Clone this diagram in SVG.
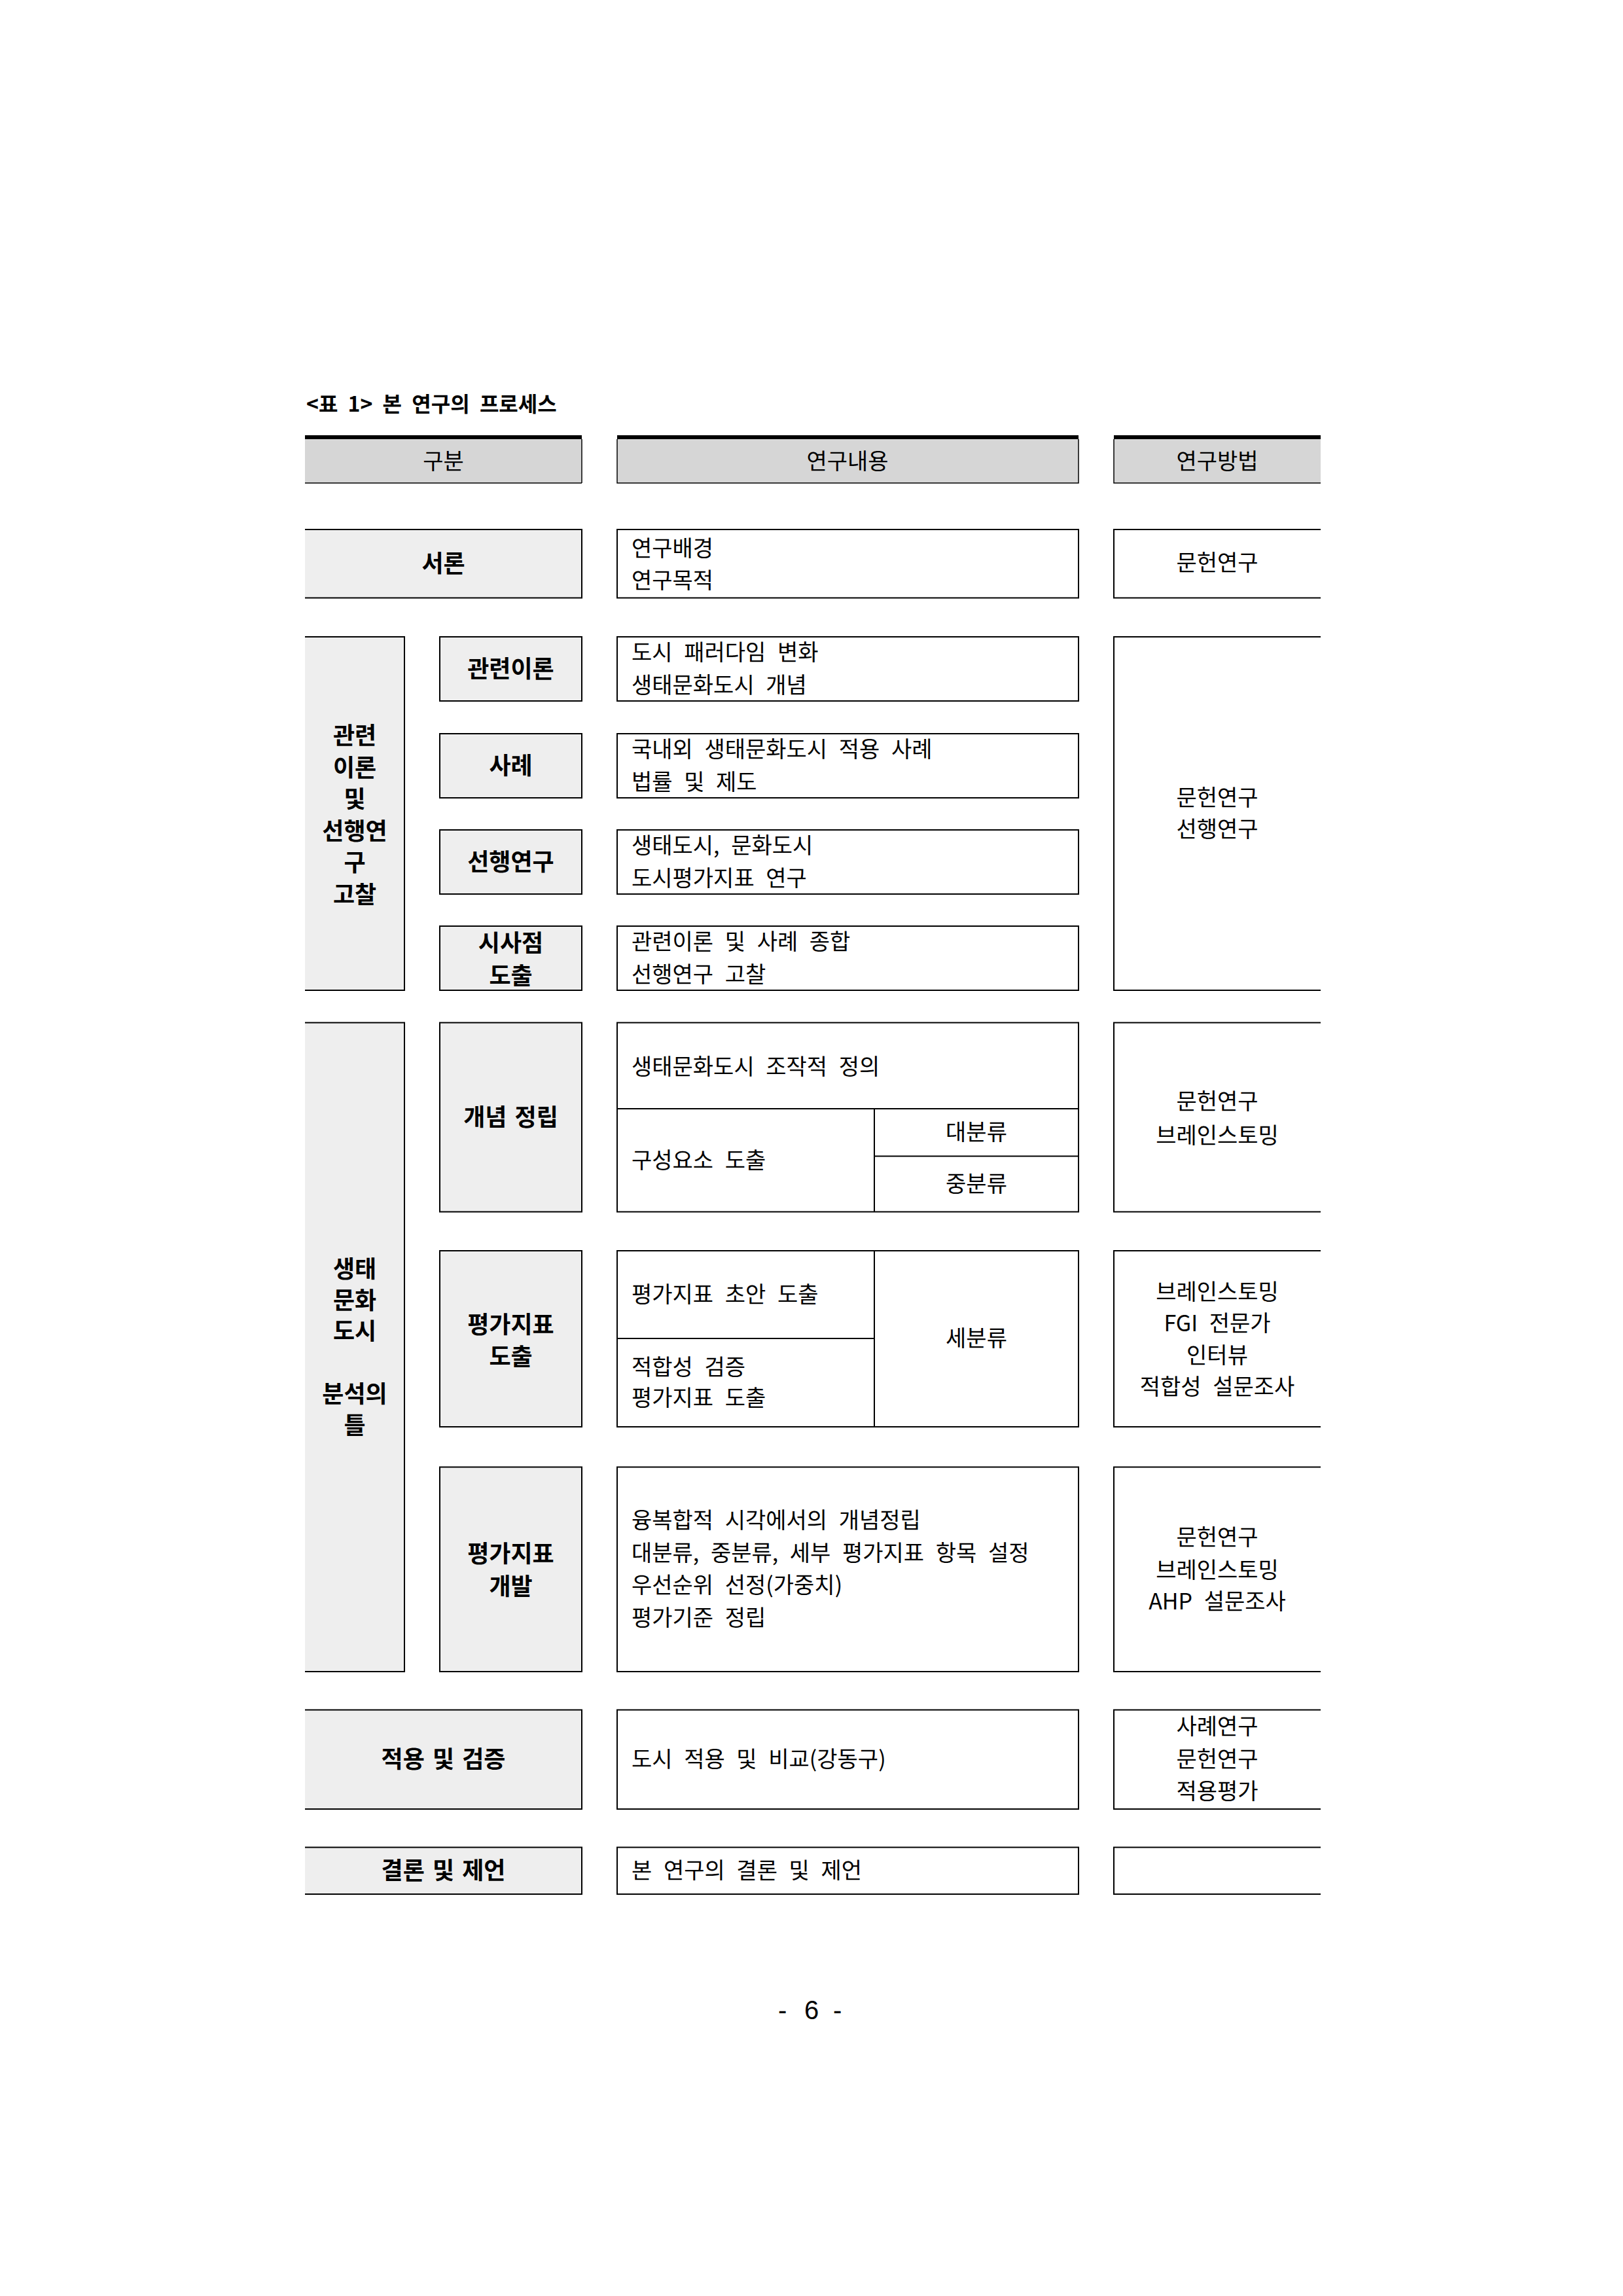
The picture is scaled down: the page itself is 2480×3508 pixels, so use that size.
<svg xmlns="http://www.w3.org/2000/svg" width="2480" height="3508" viewBox="0 0 2480 3508">
<style>
.t{font-family:"Noto Sans CJK KR","Liberation Sans",sans-serif;font-size:34px;fill:#000;word-spacing:10px}
.c{text-anchor:middle}
.b{font-weight:bold;font-size:36px;word-spacing:4px}
.ttl{font-weight:bold;font-size:32px;word-spacing:8px}
.ln{fill:none;stroke:#000;stroke-width:2}
.lb{fill:#eeeeee;stroke:#000;stroke-width:2}
.hl{fill:none;stroke:#000;stroke-width:1.5}
.lab{fill:#eeeeee}
.hd{fill:#d6d6d6}
.pg{font-family:"Liberation Sans",sans-serif;font-size:40px;fill:#000}
</style>
<rect width="2480" height="3508" fill="#fff"/>

<text id="title" class="t ttl" x="468" y="629">&lt;표 1&gt; 본 연구의 프로세스</text>

<g id="header-gubun">
<rect class="hd" x="466" y="671" width="423" height="67"/>
<rect x="466" y="665" width="423" height="6" fill="#000"/>
<path class="hl" d="M889,671 V738 M466,738 H889"/>
<text class="t c" x="677.5" y="716.5">구분</text>
</g>
<g id="header-content">
<rect class="hd" x="943" y="671" width="705" height="67"/>
<rect x="943" y="665" width="705" height="6" fill="#000"/>
<path class="hl" d="M943,671 V738 H1648 V671"/>
<text class="t c" x="1295" y="716.5">연구내용</text>
</g>
<g id="header-method">
<rect class="hd" x="1702" y="671" width="316" height="67"/>
<rect x="1702" y="665" width="316" height="6" fill="#000"/>
<path class="hl" d="M1702,671 V738 H2018"/>
<text class="t c" x="1860" y="716.5">연구방법</text>
</g>

<!-- 서론 -->
<g id="intro-label">
<rect class="lab" x="466" y="809" width="423" height="104.5"/>
<path class="ln" d="M466,809 H889 V913.5 H466"/>
<text class="t b c" x="677.5" y="873.5">서론</text>
</g>
<g id="intro-content">
<rect class="ln" x="943" y="809" width="705" height="104.5"/>
<text class="t" x="965" y="850">연구배경</text>
<text class="t" x="965" y="899">연구목적</text>
</g>
<g id="intro-method">
<path class="ln" d="M2018,809 H1702 V913.5 H2018"/>
<text class="t c" x="1860" y="872">문헌연구</text>
</g>

<!-- 관련이론 및 선행연구 고찰 -->
<g id="theory-label">
<rect class="lab" x="466" y="973" width="152" height="540"/>
<path class="ln" d="M466,973 H618 V1513 H466"/>
<text class="t b c" x="542" y="1137">관련</text>
<text class="t b c" x="542" y="1186">이론</text>
<text class="t b c" x="542" y="1234">및</text>
<text class="t b c" x="542" y="1283">선행연</text>
<text class="t b c" x="542" y="1331">구</text>
<text class="t b c" x="542" y="1380">고찰</text>
</g>
<g id="theory-related">
<rect class="lb" x="672" y="973" width="217" height="98"/>
<text class="t b c" x="780.5" y="1035">관련이론</text>
</g>
<g id="theory-related-content">
<rect class="ln" x="943" y="973" width="705" height="98"/>
<text class="t" x="965" y="1009">도시 패러다임 변화</text>
<text class="t" x="965" y="1059">생태문화도시 개념</text>
</g>
<g id="theory-case">
<rect class="lb" x="672" y="1121" width="217" height="98"/>
<text class="t b c" x="780.5" y="1183">사례</text>
</g>
<g id="theory-case-content">
<rect class="ln" x="943" y="1121" width="705" height="98"/>
<text class="t" x="965" y="1157">국내외 생태문화도시 적용 사례</text>
<text class="t" x="965" y="1207">법률 및 제도</text>
</g>
<g id="theory-prior">
<rect class="lb" x="672" y="1268" width="217" height="98"/>
<text class="t b c" x="780.5" y="1330">선행연구</text>
</g>
<g id="theory-prior-content">
<rect class="ln" x="943" y="1268" width="705" height="98"/>
<text class="t" x="965" y="1304">생태도시, 문화도시</text>
<text class="t" x="965" y="1354">도시평가지표 연구</text>
</g>
<g id="theory-implication">
<rect class="lb" x="672" y="1415" width="217" height="98"/>
<text class="t b c" x="780.5" y="1454">시사점</text>
<text class="t b c" x="780.5" y="1504">도출</text>
</g>
<g id="theory-implication-content">
<rect class="ln" x="943" y="1415" width="705" height="98"/>
<text class="t" x="965" y="1451">관련이론 및 사례 종합</text>
<text class="t" x="965" y="1501">선행연구 고찰</text>
</g>
<g id="theory-method">
<path class="ln" d="M2018,973 H1702 V1513 H2018"/>
<text class="t c" x="1860" y="1231">문헌연구</text>
<text class="t c" x="1860" y="1279">선행연구</text>
</g>

<!-- 생태문화도시 분석의 틀 -->
<g id="frame-label">
<rect class="lab" x="466" y="1562.5" width="152" height="991.5"/>
<path class="ln" d="M466,1562.5 H618 V2554 H466"/>
<text class="t b c" x="542" y="1952">생태</text>
<text class="t b c" x="542" y="2000">문화</text>
<text class="t b c" x="542" y="2047">도시</text>
<text class="t b c" x="542" y="2143">분석의</text>
<text class="t b c" x="542" y="2191">틀</text>
</g>
<g id="concept">
<rect class="lb" x="672" y="1562.5" width="217" height="289"/>
<text class="t b c" x="780.5" y="1720">개념 정립</text>
</g>
<g id="concept-content">
<rect class="ln" x="943" y="1562.5" width="705" height="289"/>
<path class="ln" d="M943,1694 H1648 M1336,1694 V1851.5 M1336,1766.5 H1648"/>
<text class="t" x="965" y="1642">생태문화도시 조작적 정의</text>
<text class="t" x="965" y="1785">구성요소 도출</text>
<text class="t c" x="1492" y="1742">대분류</text>
<text class="t c" x="1492" y="1821">중분류</text>
</g>
<g id="concept-method">
<path class="ln" d="M2018,1562.5 H1702 V1851.5 H2018"/>
<text class="t c" x="1860" y="1695">문헌연구</text>
<text class="t c" x="1860" y="1747">브레인스토밍</text>
</g>

<g id="index-derive">
<rect class="lb" x="672" y="1911" width="217" height="269"/>
<text class="t b c" x="780.5" y="2037">평가지표</text>
<text class="t b c" x="780.5" y="2086">도출</text>
</g>
<g id="index-derive-content">
<rect class="ln" x="943" y="1911" width="705" height="269"/>
<path class="ln" d="M1336,1911 V2180 M943,2045 H1336"/>
<text class="t" x="965" y="1990">평가지표 초안 도출</text>
<text class="t" x="965" y="2101">적합성 검증</text>
<text class="t" x="965" y="2148">평가지표 도출</text>
<text class="t c" x="1492" y="2057">세분류</text>
</g>
<g id="index-derive-method">
<path class="ln" d="M2018,1911 H1702 V2180 H2018"/>
<text class="t c" x="1860" y="1986">브레인스토밍</text>
<text class="t c" x="1860" y="2034">FGI 전문가</text>
<text class="t c" x="1860" y="2083">인터뷰</text>
<text class="t c" x="1860" y="2131">적합성 설문조사</text>
</g>

<g id="index-develop">
<rect class="lb" x="672" y="2241.5" width="217" height="312.5"/>
<text class="t b c" x="780.5" y="2387">평가지표</text>
<text class="t b c" x="780.5" y="2437">개발</text>
</g>
<g id="index-develop-content">
<rect class="ln" x="943" y="2241.5" width="705" height="312.5"/>
<text class="t" x="965" y="2335">융복합적 시각에서의 개념정립</text>
<text class="t" x="965" y="2385">대분류, 중분류, 세부 평가지표 항목 설정</text>
<text class="t" x="965" y="2434">우선순위 선정(가중치)</text>
<text class="t" x="965" y="2484">평가기준 정립</text>
</g>
<g id="index-develop-method">
<path class="ln" d="M2018,2241.5 H1702 V2554 H2018"/>
<text class="t c" x="1860" y="2361">문헌연구</text>
<text class="t c" x="1860" y="2411">브레인스토밍</text>
<text class="t c" x="1860" y="2459">AHP 설문조사</text>
</g>

<!-- 적용 및 검증 -->
<g id="apply-label">
<rect class="lab" x="466" y="2612.5" width="423" height="151.5"/>
<path class="ln" d="M466,2612.5 H889 V2764 H466"/>
<text class="t b c" x="677.5" y="2701">적용 및 검증</text>
</g>
<g id="apply-content">
<rect class="ln" x="943" y="2612.5" width="705" height="151.5"/>
<text class="t" x="965" y="2700">도시 적용 및 비교(강동구)</text>
</g>
<g id="apply-method">
<path class="ln" d="M2018,2612.5 H1702 V2764 H2018"/>
<text class="t c" x="1860" y="2650">사례연구</text>
<text class="t c" x="1860" y="2700">문헌연구</text>
<text class="t c" x="1860" y="2749">적용평가</text>
</g>

<!-- 결론 및 제언 -->
<g id="conclusion-label">
<rect class="lab" x="466" y="2822.5" width="423" height="71.5"/>
<path class="ln" d="M466,2822.5 H889 V2894 H466"/>
<text class="t b c" x="677.5" y="2871">결론 및 제언</text>
</g>
<g id="conclusion-content">
<rect class="ln" x="943" y="2822.5" width="705" height="71.5"/>
<text class="t" x="965" y="2870">본 연구의 결론 및 제언</text>
</g>
<g id="conclusion-method">
<path class="ln" d="M2018,2822.5 H1702 V2894 H2018"/>
</g>

<text id="page" class="pg" x="1189 1207 1229 1252 1273" y="3085">- 6 -</text>
</svg>
